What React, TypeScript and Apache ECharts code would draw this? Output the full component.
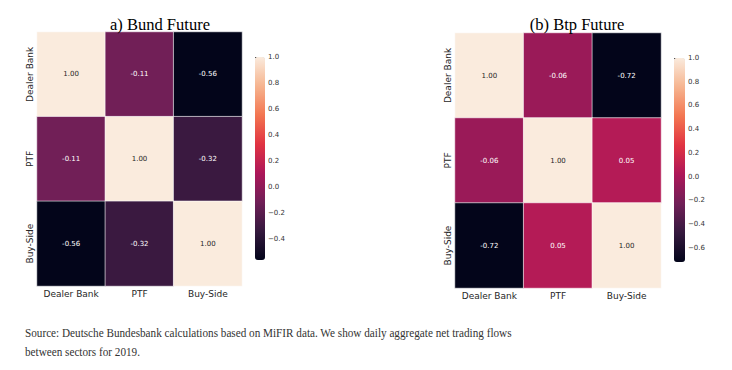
import React, { useEffect, useRef } from "react";
import * as echarts from "echarts";

const categories = ["Dealer Bank", "PTF", "Buy-Side"];
const bundValues = [
  [1.0, -0.11, -0.56],
  [-0.11, 1.0, -0.32],
  [-0.56, -0.32, 1.0],
];
const btpValues = [
  [1.0, -0.06, -0.72],
  [-0.06, 1.0, 0.05],
  [-0.72, 0.05, 1.0],
];
const bundTicks = [-0.4, -0.2, 0.0, 0.2, 0.4, 0.6, 0.8, 1.0];
const btpTicks = [-0.6, -0.4, -0.2, 0.0, 0.2, 0.4, 0.6, 0.8, 1.0];
const rocket = ["#03051A", "#35193E", "#701F57", "#AD1759", "#E13342", "#F37651", "#F6B48F", "#FAEBDD"];
const titles = ["a) Bund Future", "(b) Btp Future"];
const captionLines = [
  "Source: Deutsche Bundesbank calculations based on MiFIR data. We show daily aggregate net trading flows",
  "between sectors for 2019.",
];

const fmtTick = (v: number) => {
  const s = Math.abs(v).toFixed(1);
  return v < -1e-9 ? "\u2212" + s : s;
};

function cells(values: number[][]) {
  const out: any[] = [];
  values.forEach((row, r) =>
    row.forEach((v, c) =>
      out.push({
        value: [c, r, v],
        label: { color: v > 0.6 ? "#262626" : "#ffffff" },
      })
    )
  );
  return out;
}

export default function App() {
  const ref = useRef<HTMLDivElement>(null);
  useEffect(() => {
    if (!ref.current) return;
    const chart = echarts.init(ref.current, null, { renderer: "svg" });
    const grids = [
      { left: 37, top: 32, width: 205, height: 254 },
      { left: 455, top: 33, width: 206, height: 255 },
      { left: 255, top: 57, width: 10, height: 203 },
      { left: 674, top: 58, width: 11, height: 204 },
    ];
    const titleCenters = [155, 572];
    const sets = [bundValues, btpValues];
    const mins = sets.map((s) => Math.min(...s.flat()));
    const maxs = sets.map((s) => Math.max(...s.flat()));
    const tickSets = [bundTicks, btpTicks];
    const catAxisLabel = { fontSize: 9, color: "#262626", fontFamily: "DejaVu Sans", interval: 0 };
    const option: any = {
      animation: false,
      backgroundColor: "#ffffff",
      title: titles.map((t, i) => ({
        text: t,
        left: titleCenters[i],
        top: 11,
        textAlign: "center",
        textStyle: { fontFamily: "Liberation Serif", fontWeight: "normal", fontSize: 16.5, color: "#000" },
      })),
      grid: grids,
      xAxis: [0, 1, 2, 3].map((i) =>
        i < 2
          ? {
              type: "category",
              gridIndex: i,
              data: categories,
              position: "bottom",
              axisLine: { show: false },
              axisTick: { alignWithLabel: true, length: 3, lineStyle: { color: "#333" } },
              axisLabel: { ...catAxisLabel, margin: 3 },
              splitLine: { show: false },
            }
          : { type: "value", gridIndex: i, show: false }
      ),
      yAxis: [0, 1, 2, 3].map((i) =>
        i < 2
          ? {
              type: "category",
              gridIndex: i,
              data: categories,
              inverse: true,
              axisLine: { show: false },
              axisTick: { alignWithLabel: true, length: 3, lineStyle: { color: "#333" } },
              axisLabel: { ...catAxisLabel, rotate: 90, margin: 3 },
              splitLine: { show: false },
            }
          : {
              type: "value",
              gridIndex: i,
              min: mins[i - 2],
              max: maxs[i - 2],
              position: "right",
              axisLine: { show: false },
              splitLine: { show: false },
              axisTick: {
                show: true,
                length: 3,
                customValues: tickSets[i - 2],
                lineStyle: { color: "#333" },
              },
              axisLabel: {
                customValues: tickSets[i - 2],
                formatter: (v: number) => fmtTick(v),
                fontSize: 7,
                color: "#333",
                margin: 3,
                fontFamily: "DejaVu Sans",
              },
            }
      ),
      visualMap: [0, 1].map((i) => ({
        type: "continuous",
        seriesIndex: i,
        min: mins[i],
        max: maxs[i],
        inRange: { color: rocket },
        orient: "vertical",
        left: grids[i + 2].left,
        top: grids[i + 2].top,
        itemWidth: grids[i + 2].width,
        itemHeight: grids[i + 2].height,
        padding: 0,
        calculable: false,
        text: null,
        showLabel: false,
      })),
      series: sets.map((s, i) => ({
        type: "heatmap",
        xAxisIndex: i,
        yAxisIndex: i,
        data: cells(s),
        itemStyle: { borderColor: "#ffffff", borderWidth: 0.6 },
        label: {
          show: true,
          fontSize: 7,
          fontFamily: "DejaVu Sans",
          formatter: (p: any) => Number(p.value[2]).toFixed(2),
        },
        emphasis: { disabled: true },
      })),
      graphic: captionLines.map((t, i) => ({
        type: "text",
        x: 25,
        y: 333 + i * 19,
        scaleX: 0.83,
        style: {
          text: t,
          fontFamily: "Liberation Serif",
          fontSize: 13.5,
          fill: "#333",
          verticalAlign: "middle",
        },
      })),
    };
    chart.setOption(option);
    return () => chart.dispose();
  }, []);
  return (
    <div
      ref={ref}
      style={{ position: "fixed", left: 0, top: 0, width: 732, height: 370, background: "#fff" }}
    />
  );
}
